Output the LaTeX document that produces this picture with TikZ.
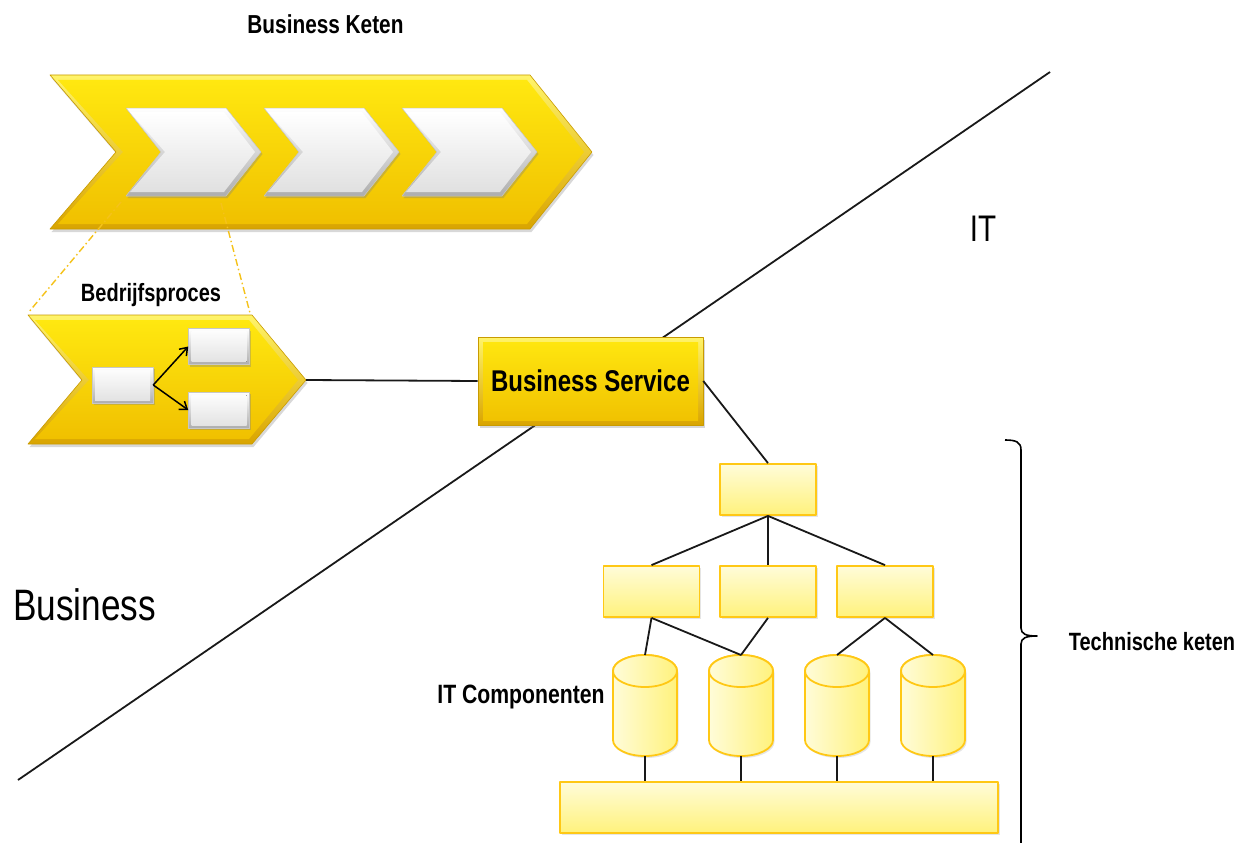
\documentclass[tikz,border=0pt]{standalone}
\usepackage{fontspec}
\newfontfamily\cond[FakeStretch=0.8]{Liberation Sans}
\usetikzlibrary{shadows,arrows.meta}

\definecolor{goldA}{HTML}{FFE810}
\definecolor{goldB}{HTML}{F0C000}
\definecolor{goldRimT}{HTML}{FFF46A}
\definecolor{goldRimB}{HTML}{D9A400}
\definecolor{goldLine}{HTML}{C99B00}
\definecolor{paleA}{HTML}{FFFCD9}
\definecolor{paleB}{HTML}{FFF27C}
\definecolor{paleRim}{HTML}{FFC815}
\definecolor{chain}{HTML}{F5C21A}

\begin{document}
\begin{tikzpicture}[x=1pt,y=-1pt,line join=round,
  goldrim/.style={top color=goldRimT,bottom color=goldRimB,draw=goldLine,line width=0.6pt,
    drop shadow={shadow xshift=1.5pt,shadow yshift=-3pt,opacity=0.3}},
  goldface/.style={top color=goldA,bottom color=goldB},
  silverrim/.style={top color=white,bottom color=black!32,draw=black!22,line width=0.5pt,
    drop shadow={shadow xshift=1.5pt,shadow yshift=-2pt,opacity=0.35}},
  silverface/.style={top color=white,bottom color=black!12},
  sbox/.style={rectangle,inner sep=0pt,minimum width=61pt,minimum height=36pt,silverrim,
    path picture={\fill[silverface] ([xshift=3pt,yshift=-3pt]path picture bounding box.north west)
      rectangle ([xshift=-3pt,yshift=3pt]path picture bounding box.south east);}},
  svc/.style={rectangle,inner sep=0pt,minimum width=225pt,minimum height=88pt,goldrim,
    path picture={\fill[goldface] ([xshift=5pt,yshift=-5pt]path picture bounding box.north west)
      rectangle ([xshift=-5pt,yshift=5pt]path picture bounding box.south east);}},
  itbox/.style={rectangle,inner sep=0pt,minimum width=96pt,minimum height=51pt,
    draw=paleRim,line width=1.8pt,top color=paleA,bottom color=paleB,
    drop shadow={shadow xshift=1.5pt,shadow yshift=-2pt,opacity=0.2}},
  cylfill/.style={left color=paleA,right color=paleB,draw=paleRim,line width=1.8pt},
  link/.style={draw=black!90,line width=1.8pt},
  zoomline/.style={draw=chain,line width=1.4pt,dash pattern=on 7pt off 3pt on 1.5pt off 3pt},
  lbl/.style={inner sep=0pt,anchor=base},
  dbcyl/.pic={
    \path[cylfill,drop shadow={shadow xshift=1.5pt,shadow yshift=-2pt,opacity=0.2}]
      (-32,-34.5) -- (-32,34.5) arc[start angle=180,end angle=0,x radius=32,y radius=16]
      -- (32,-34.5) arc[start angle=0,end angle=-180,x radius=32,y radius=16] -- cycle;
    \path[cylfill] (0,-34.5) ellipse[x radius=32,y radius=16];
    \coordinate (-top) at (0,-50.5);
    \coordinate (-bot) at (0,50.5);
  }]

% canvas
\fill[white] (0,0) rectangle (1243,843);
\useasboundingbox (0,0) rectangle (1243,843);

% dividing line between business and IT
\coordinate (d1) at (18,780);
\coordinate (d2) at (1050,72);
\draw[link] (d1) -- (d2);

% business chain: large chevron with three steps
\path[goldrim] (50,75) -- (530,75) -- (592,152) -- (530,229) -- (50,229) -- (116,152) -- cycle;
\path[goldface] (58,80) -- (527,80) -- (584,152) -- (527,224) -- (58,224) -- (123,152) -- cycle;
\foreach \x in {126,264,402}{
  \path[silverrim] (\x,108) -- (\x+100,108) -- (\x+135,152) -- (\x+100,196) -- (\x,196) -- (\x+35,152) -- cycle;
  \path[silverface] (\x+4,112) -- (\x+98,112) -- (\x+129,152) -- (\x+98,192) -- (\x+4,192) -- (\x+39,152) -- cycle;
}
\node[lbl,font=\cond\bfseries\fontsize{26}{30}\selectfont] (tk) at (325.5,34) {Business Keten};

% zoom from the first step to the business process
\coordinate (k1bl) at (121,202);
\coordinate (k1br) at (221,203);
\coordinate (bptl) at (28,313);
\coordinate (bptr) at (250,313);
\draw[zoomline] (k1bl) -- (bptl);
\draw[zoomline] (k1br) -- (bptr);

% business process chevron
\path[goldrim] (28,315) -- (252,315) -- (306,380) -- (252,444) -- (28,444) -- (82,380) -- cycle;
\path[goldface] (35,320) -- (249,320) -- (298,380) -- (249,439) -- (35,439) -- (89,380) -- cycle;
\coordinate (bptip) at (306,380);
\node[lbl,font=\cond\bfseries\fontsize{25}{29}\selectfont] (bpl) at (151,301) {Bedrijfsproces};
\node[sbox] (s1) at (122.5,385) {};
\node[sbox] (s2) at (219,346.5) {};
\node[sbox] (s3) at (219,410) {};
\draw[line width=1.5pt,-{Straight Barb[length=7pt,width=10pt]}] (s1.east) -- (s2.west);
\draw[line width=1.5pt,-{Straight Barb[length=7pt,width=10pt]}] (s1.east) -- (s3.west);

% business service
\node[svc,font=\cond\bfseries\fontsize{30}{34}\selectfont] (bs) at (590.5,381) {Business Service};
\draw[link] (bptip) -- (bs.west);

% IT components tree
\node[itbox] (t0) at (768,489.5) {};
\node[itbox] (m1) at (651.5,591.5) {};
\node[itbox] (m2) at (768,591.5) {};
\node[itbox] (m3) at (885,591.5) {};
\pic (c1) at (645,705.5) {dbcyl};
\pic (c2) at (741,705.5) {dbcyl};
\pic (c3) at (837,705.5) {dbcyl};
\pic (c4) at (933,705.5) {dbcyl};
\node[itbox,minimum width=438pt,minimum height=51pt] (base) at (779,807.5) {};

\draw[link] (bs.east) -- (t0.north);
\draw[link] (t0.south) -- (m1.north);
\draw[link] (t0.south) -- (m2.north);
\draw[link] (t0.south) -- (m3.north);
\draw[link] (m1.south) -- (c1-top);
\draw[link] (m1.south) -- (c2-top);
\draw[link] (m2.south) -- (c2-top);
\draw[link] (m3.south) -- (c3-top);
\draw[link] (m3.south) -- (c4-top);
\foreach \c in {c1,c2,c3,c4}{
  \draw[link] (\c-bot) -- (\c-bot |- base.north);
}
\node[lbl,font=\cond\bfseries\fontsize{26.5}{30}\selectfont] (itc) at (521,703.5) {IT Componenten};

% technical chain brace
\coordinate (br1) at (1005,440);
\coordinate (brm) at (1037,636);
\coordinate (br2) at (1021,850);
\draw[line width=1.6pt] (br1) .. controls (1016,440) and (1021,442) .. (1021,450)
  -- (1021,628) .. controls (1021,634) and (1026,636) .. (brm)
  .. controls (1026,636) and (1021,638) .. (1021,644) -- (br2);
\node[lbl,font=\cond\bfseries\fontsize{25}{29}\selectfont] (tech) at (1152,650) {Technische keten};

% domain labels
\node[lbl,font=\cond\fontsize{37}{40}\selectfont] (it) at (983,241.7) {IT};
\node[lbl,font=\cond\fontsize{44}{48}\selectfont] (biz) at (84.7,620) {Business};
\end{tikzpicture}
\end{document}
